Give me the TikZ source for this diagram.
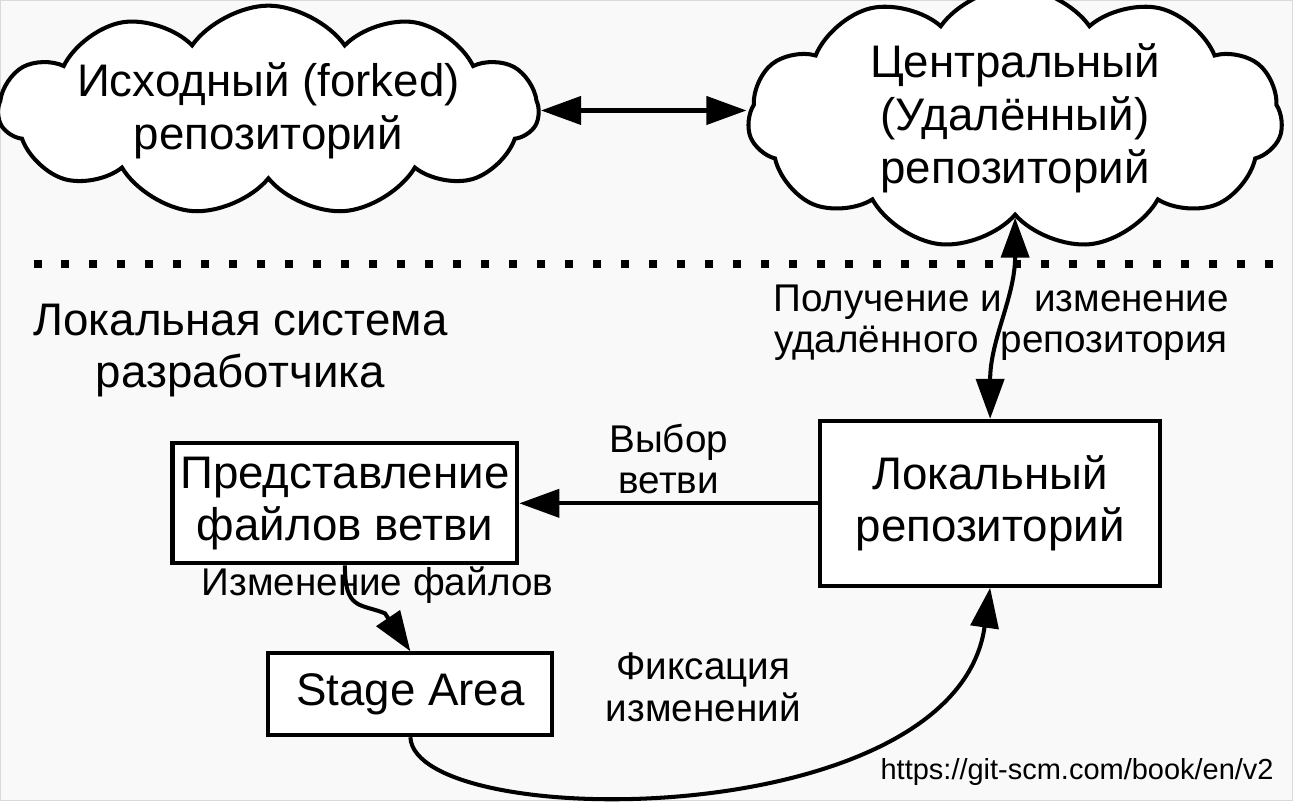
\documentclass[tikz,border=0pt]{standalone}
\usepackage{fontspec}
\setmainfont{Liberation Sans}
\usetikzlibrary{shapes.symbols, arrows.meta}
\tikzset{>={Triangle[length=0.8cm,width=0.56cm]}}
\tikzset{
  repo/.style={cloud, cloud puffs=11, cloud puff arc=110, cloud ignores aspect,
    draw, fill=white, line width=2.3pt, align=center, inner sep=0pt,
    font=\fontsize{26}{30}\selectfont},
  area/.style={draw, fill=white, line width=2.3pt, align=center, inner sep=2pt,
    font=\fontsize{26}{29.5}\selectfont},
  lbl/.style={align=center, font=\fontsize{22}{23.5}\selectfont},
  flow/.style={line width=2.3pt, ->}
}

\begin{document}
\begin{tikzpicture}[x=0.02cm, y=-0.02cm]
\fill[black!2.5] (0,0) rectangle (1292,800);
\draw[black!15, line width=0.6pt] (0,0) rectangle (1292,800);
\useasboundingbox (0,0) rectangle (1296,810);

% remote side
\node[repo, minimum width=10.8cm, minimum height=3.6cm] (fork) at (268,110) {Исходный (forked)\\репозиторий};
\node[repo, minimum width=10.7cm, minimum height=4.76cm] (central) at (1015,118) {Центральный\\(Удалённый)\\репозиторий};
\draw[flow, <->] (fork.east) -- (fork.east -| central.west);

% border of the local system
\draw[line width=0.16cm, dash pattern=on 0.16cm off 0.4cm] (33,264) -- (1275,264);
\node[align=center, font=\fontsize{26}{29.5}\selectfont] (devsys) at (240,350) {Локальная система\\разработчика};

% local side
\node[area, minimum width=6.9cm, minimum height=2.4cm] (view) at (344.5,503) {Представление\\файлов ветви};
\node[area, minimum width=6.8cm, minimum height=3.3cm] (local) at (990,503) {Локальный\\репозиторий};
\node[area, minimum width=5.68cm, minimum height=1.64cm] (stage) at (410,694) {Stage Area};

\draw[flow, <->] (central.south) to[out=-90, in=90] (local.north);
\node[lbl] (sync) at (1001,322) {Получение и\ \ \ изменение\\удалённого\ \ репозитория};

\draw[flow] (local.west) -- node[lbl, above, inner sep=4pt] (pick) {Выбор\\ветви} (view.east);

\draw[flow] (view.south) .. controls +(0,45) and +(-25,-10) .. ++(40,48) -- (stage.north);
\node[lbl] (edit) at (377,585) {Изменение файлов};

\draw[flow] (stage.south) .. controls +(5,95) and +(-35,247) .. (local.south);
\node[lbl] (commit) at (703,687) {Фиксация\\изменений};

\node[font=\fontsize{16.5}{19}\selectfont] (src) at (1077,772) {https://git-scm.com/book/en/v2};
\end{tikzpicture}
\end{document}
